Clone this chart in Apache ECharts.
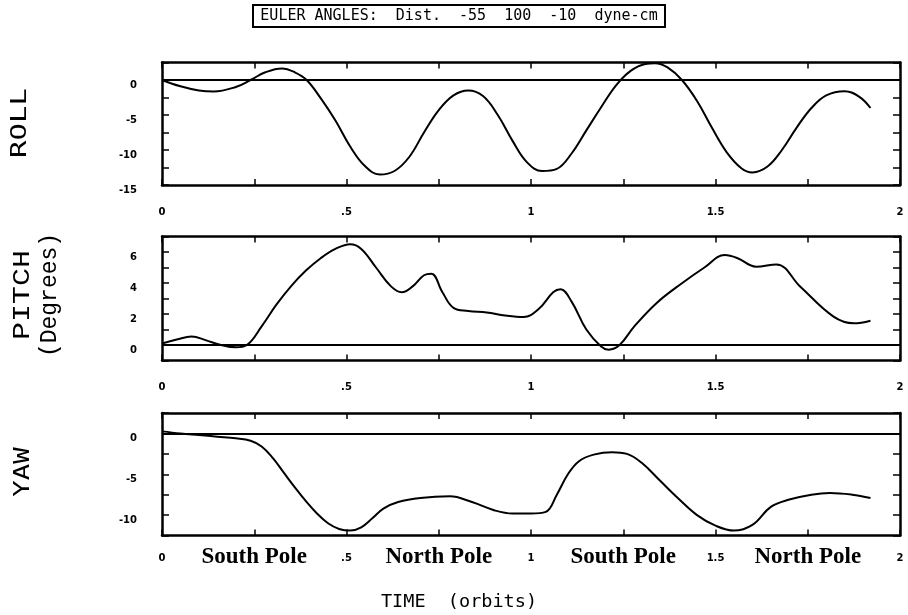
<!DOCTYPE html>
<html>
<head>
<meta charset="utf-8">
<script src="https://cdn.jsdelivr.net/npm/echarts@6/dist/echarts.min.js"></script>
<style>
  html, body { margin: 0; padding: 0; background: #ffffff; }
  #chart { width: 908px; height: 615px; }
</style>
</head>
<body>
<div id="chart"></div>
<script>
// Euler angle history (degrees) against time in orbits
const rollTime  = [0, 0.05, 0.1, 0.14, 0.2, 0.24, 0.28, 0.325, 0.36, 0.392, 0.43, 0.47, 0.51, 0.55, 0.59, 0.63, 0.67, 0.71, 0.75, 0.79, 0.83, 0.87, 0.91, 0.95, 0.99, 1.03, 1.07, 1.11, 1.15, 1.19, 1.23, 1.27, 1.31, 1.336, 1.37, 1.409, 1.45, 1.49, 1.53, 1.57, 1.60, 1.64, 1.68, 1.72, 1.76, 1.80, 1.85, 1.89, 1.92];
const rollAngle = [0, -0.9, -1.5, -1.65, -1.0, 0, 1.1, 1.65, 1.1, 0, -2.6, -5.8, -9.5, -12.3, -13.5, -13, -11, -7.5, -4.3, -2.2, -1.5, -2.3, -5, -8.7, -11.8, -13, -12.7, -10.5, -7.2, -3.9, -0.8, 1.3, 2.3, 2.4, 1.8, 0, -3, -6.8, -10.3, -12.6, -13.2, -12.4, -10, -6.8, -4, -2.2, -1.6, -2.4, -4.0];

const pitchTime  = [0, 0.04, 0.08, 0.12, 0.16, 0.2, 0.23, 0.27, 0.31, 0.35, 0.39, 0.43, 0.47, 0.51, 0.54, 0.58, 0.62, 0.65, 0.68, 0.71, 0.73, 0.76, 0.79, 0.83, 0.88, 0.93, 0.98, 1.02, 1.06, 1.08, 1.11, 1.15, 1.19, 1.21, 1.24, 1.28, 1.34, 1.41, 1.47, 1.525, 1.56, 1.61, 1.665, 1.73, 1.82, 1.875, 1.92];
const pitchAngle = [0.1, 0.35, 0.55, 0.3, 0, -0.15, 0, 1.2, 2.6, 3.8, 4.8, 5.6, 6.2, 6.5, 6.2, 5.0, 3.8, 3.4, 3.8, 4.5, 4.6, 3.4, 2.4, 2.2, 2.1, 1.9, 1.8, 2.3, 3.4, 3.6, 2.8, 1.0, -0.1, -0.3, 0, 1.2, 2.7, 4.0, 5.0, 5.8, 5.6, 5.05, 5.2, 3.76, 1.83, 1.4, 1.57];

const yawTime  = [0, 0.05, 0.1, 0.15, 0.2, 0.24, 0.27, 0.3, 0.33, 0.36, 0.39, 0.42, 0.45, 0.48, 0.51, 0.54, 0.57, 0.6, 0.64, 0.7, 0.78, 0.84, 0.9, 0.95, 1.0, 1.04, 1.07, 1.1, 1.13, 1.17, 1.22, 1.26, 1.3, 1.35, 1.4, 1.45, 1.5, 1.55, 1.6, 1.65, 1.7, 1.76, 1.81, 1.87, 1.92];
const yawAngle = [0.25, 0.0, -0.2, -0.4, -0.6, -0.9, -1.6, -3.0, -4.8, -6.6, -8.3, -9.8, -11.0, -11.7, -11.9, -11.5, -10.4, -9.2, -8.4, -7.9, -7.7, -8.4, -9.4, -9.8, -9.8, -9.6, -7.5, -5.0, -3.4, -2.6, -2.3, -2.5, -3.6, -5.8, -8.0, -10.0, -11.3, -11.9, -11.2, -9.0, -8.1, -7.5, -7.3, -7.5, -7.9];

// tick labels
const halfOrbitLabels = ['0', '.5', '1', '1.5', '2'];
const orbitPoleLabels = ['0', 'South Pole', '.5', 'North Pole', '1', 'South Pole', '1.5', 'North Pole', '2'];
const rollTickLabels  = ['-15', '-10', '-5', '0'];
const pitchTickLabels = ['0', '2', '4', '6'];
const yawTickLabels   = ['-10', '-5', '0'];

const panelTitles = ['ROLL', 'PITCH', '(Degrees)', 'YAW'];
const chartTitle = 'EULER ANGLES:  Dist.  -55  100  -10  dyne-cm';
const timeTitle = 'TIME  (orbits)';

const pair = (ts, vs) => ts.map((t, i) => [t, vs[i]]);

const tickStyle = { fontFamily: 'DejaVu Sans', fontWeight: 'bold', fontSize: 10, color: '#000' };
const panels = [
  { top: 62.5, height: 122.5, min: -15, max: 2.5, interval: 2.5, labels: rollTickLabels, data: pair(rollTime, rollAngle), poles: false },
  { top: 236.5, height: 124, min: -1, max: 7, interval: 1, labels: pitchTickLabels, data: pair(pitchTime, pitchAngle), poles: false },
  { top: 413, height: 122.5, min: -12.5, max: 2.5, interval: 2.5, labels: yawTickLabels, data: pair(yawTime, yawAngle), poles: true }
];

const frameLine = { show: true, onZero: false, lineStyle: { color: '#000', width: 2.5 } };
const grid = [], xAxis = [], yAxis = [], series = [];

panels.forEach((p, k) => {
  grid.push({ left: 162, width: 738, top: p.top, height: p.height, show: false });

  const bottomFormatter = p.poles
    ? (v) => {
        const i = Math.round(v / 0.25);
        const s = orbitPoleLabels[i] || '';
        return i % 2 ? '{p|' + s + '}' : '{n|' + s + '}';
      }
    : (v) => {
        const i = Math.round(v / 0.25);
        return i % 2 ? '' : halfOrbitLabels[i / 2];
      };

  xAxis.push({
    type: 'value', gridIndex: k, position: 'bottom', min: 0, max: 2, interval: 0.25,
    axisLine: frameLine, splitLine: { show: false },
    axisTick: { show: true, inside: true, length: 6, lineStyle: { color: '#000', width: 1.5 } },
    axisLabel: p.poles
      ? { show: true, margin: 10, formatter: bottomFormatter, showMinLabel: true, showMaxLabel: true,
          rich: {
            n: Object.assign({}, tickStyle, { padding: [8, 0, 0, 0] }),
            p: { fontFamily: 'Liberation Serif', fontWeight: 'bold', fontSize: 23, color: '#000' }
          } }
      : Object.assign({ show: true, margin: 22, formatter: bottomFormatter, showMinLabel: true, showMaxLabel: true }, tickStyle)
  });
  xAxis.push({
    type: 'value', gridIndex: k, position: 'top', min: 0, max: 2, interval: 0.25,
    axisLine: frameLine, splitLine: { show: false },
    axisTick: { show: true, inside: true, length: 6, lineStyle: { color: '#000', width: 1.5 } },
    axisLabel: { show: false }
  });

  const labelFor = (v) => {
    const s = String(v);
    return p.labels.indexOf(s) >= 0 ? s : '';
  };
  yAxis.push({
    type: 'value', gridIndex: k, position: 'left', min: p.min, max: p.max, interval: p.interval,
    axisLine: frameLine, splitLine: { show: false },
    axisTick: { show: true, inside: true, length: 7, lineStyle: { color: '#000', width: 1.5 } },
    axisLabel: Object.assign({ show: true, margin: 25, formatter: labelFor, verticalAlign: 'top', showMinLabel: true }, tickStyle)
  });
  yAxis.push({
    type: 'value', gridIndex: k, position: 'right', min: p.min, max: p.max, interval: p.interval,
    axisLine: frameLine, splitLine: { show: false },
    axisTick: { show: true, inside: true, length: 7, lineStyle: { color: '#000', width: 1.5 } },
    axisLabel: { show: false }
  });

  series.push({
    type: 'line', xAxisIndex: 2 * k, yAxisIndex: 2 * k, data: p.data,
    showSymbol: false, symbol: 'none', smooth: 0.4, animation: false,
    lineStyle: { color: '#000', width: 2 },
    markLine: {
      silent: true, symbol: 'none', animation: false, label: { show: false },
      lineStyle: { color: '#000', width: 2, type: 'solid' },
      data: [{ yAxis: 0 }]
    }
  });
});

const sideText = (text, x, y, font, scaleX) => ({
  type: 'text', x: x, y: y, rotation: Math.PI / 2, scaleX: scaleX, scaleY: 1,
  style: { text: text, font: font, fill: '#000', align: 'center', verticalAlign: 'middle' }
});

const graphic = [
  { type: 'rect', shape: { x: 253, y: 5, width: 412, height: 22 }, style: { fill: 'none', stroke: '#000', lineWidth: 2 } },
  { type: 'text', x: 459, y: 16.5, scaleX: 1.0,
    style: { text: chartTitle, font: '15px "DejaVu Sans Mono"', fill: '#000', align: 'center', verticalAlign: 'middle' } },
  sideText(panelTitles[0], 21, 123, '21px "DejaVu Sans Mono"', 1.38),
  sideText(panelTitles[1], 23, 295, '24px "Liberation Mono"', 1.25),
  sideText(panelTitles[2], 50, 295, '23px "Liberation Mono"', 1.0),
  sideText(panelTitles[3], 24, 472, '21px "DejaVu Sans Mono"', 1.3),
  { type: 'text', x: 459, y: 603, scaleX: 1.09,
    style: { text: timeTitle, font: '17px "DejaVu Sans Mono"', fill: '#000', align: 'center', verticalAlign: 'middle' } }
];

const chart = echarts.init(document.getElementById('chart'), null, { renderer: 'canvas' });
chart.setOption({
  backgroundColor: '#ffffff',
  animation: false,
  grid: grid, xAxis: xAxis, yAxis: yAxis, series: series, graphic: graphic
});
</script>
</body>
</html>
